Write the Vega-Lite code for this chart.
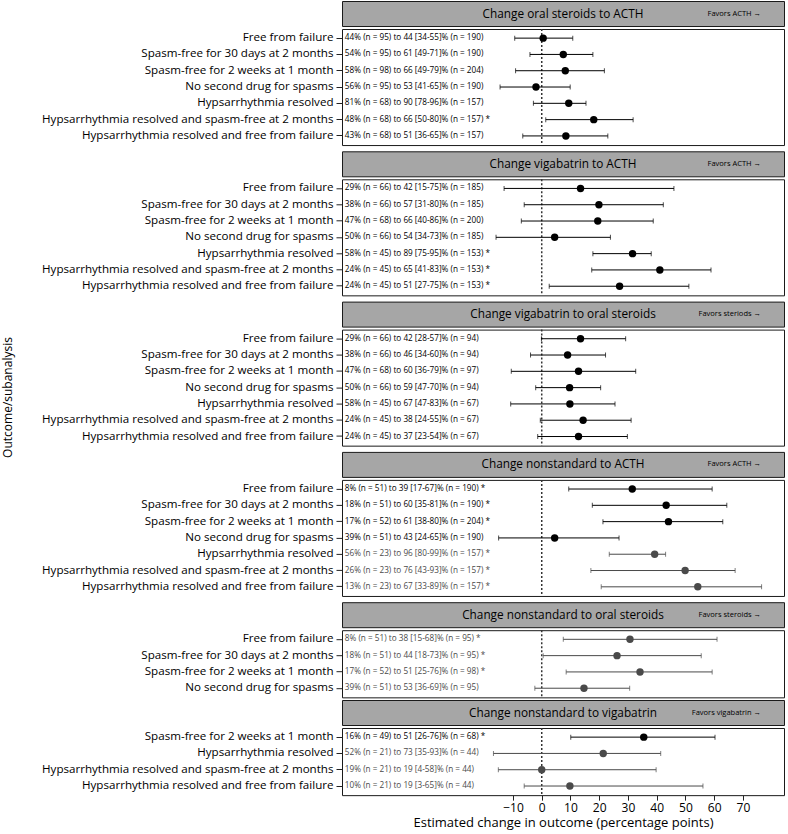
{
  "$schema": "https://vega.github.io/schema/vega-lite/v6.json",
  "padding": {"left": 2, "top": 0, "right": 2, "bottom": 0},
  "config": {
    "font": "Open Sans",
    "view": {"stroke": "#1a1a1a", "strokeWidth": 1},
    "axis": {"labelColor": "#000", "tickColor": "#222", "titleColor": "#000", "domain": false, "grid": false, "titleFontWeight": "normal", "labelLimit": 0}
  },
  "datasets": {
    "panels": [
      {"panel": "Change oral steroids to ACTH", "favors": "Favors ACTH →"},
      {"panel": "Change vigabatrin to ACTH", "favors": "Favors ACTH →"},
      {"panel": "Change vigabatrin to oral steroids", "favors": "Favors steriods →"},
      {"panel": "Change nonstandard to ACTH", "favors": "Favors ACTH →"},
      {"panel": "Change nonstandard to oral steroids", "favors": "Favors steroids →"},
      {"panel": "Change nonstandard to vigabatrin", "favors": "Favors vigabatrin →"}
    ],
    "zero": [{"ref": 0}],
    "rows": [
      {"panel": "Change oral steroids to ACTH", "outcome": "Free from failure", "label": "44% (n = 95) to 44 [34-55]% (n = 190)", "est": 0.5, "lo": -9.4, "hi": 10.8, "tone": "full"},
      {"panel": "Change oral steroids to ACTH", "outcome": "Spasm-free for 30 days at 2 months", "label": "54% (n = 95) to 61 [49-71]% (n = 190)", "est": 7.5, "lo": -4.1, "hi": 17.8, "tone": "full"},
      {"panel": "Change oral steroids to ACTH", "outcome": "Spasm-free for 2 weeks at 1 month", "label": "58% (n = 98) to 66 [49-79]% (n = 204)", "est": 8.2, "lo": -9.1, "hi": 21.8, "tone": "full"},
      {"panel": "Change oral steroids to ACTH", "outcome": "No second drug for spasms", "label": "56% (n = 95) to 53 [41-65]% (n = 190)", "est": -2.0, "lo": -14.5, "hi": 9.9, "tone": "full"},
      {"panel": "Change oral steroids to ACTH", "outcome": "Hypsarrhythmia resolved", "label": "81% (n = 68) to 90 [78-96]% (n = 157)", "est": 9.4, "lo": -2.9, "hi": 15.4, "tone": "full"},
      {"panel": "Change oral steroids to ACTH", "outcome": "Hypsarrhythmia resolved and spasm-free at 2 months", "label": "48% (n = 68) to 66 [50-80]% (n = 157) *", "est": 18.1, "lo": 1.4, "hi": 31.8, "tone": "full"},
      {"panel": "Change oral steroids to ACTH", "outcome": "Hypsarrhythmia resolved and free from failure", "label": "43% (n = 68) to 51 [36-65]% (n = 157)", "est": 8.4, "lo": -6.6, "hi": 23.0, "tone": "full"},

      {"panel": "Change vigabatrin to ACTH", "outcome": "Free from failure", "label": "29% (n = 66) to 42 [15-75]% (n = 185)", "est": 13.5, "lo": -13.1, "hi": 46.0, "tone": "full"},
      {"panel": "Change vigabatrin to ACTH", "outcome": "Spasm-free for 30 days at 2 months", "label": "38% (n = 66) to 57 [31-80]% (n = 185)", "est": 19.9, "lo": -6.1, "hi": 42.3, "tone": "full"},
      {"panel": "Change vigabatrin to ACTH", "outcome": "Spasm-free for 2 weeks at 1 month", "label": "47% (n = 68) to 66 [40-86]% (n = 200)", "est": 19.5, "lo": -7.1, "hi": 38.8, "tone": "full"},
      {"panel": "Change vigabatrin to ACTH", "outcome": "No second drug for spasms", "label": "50% (n = 66) to 54 [34-73]% (n = 185)", "est": 4.5, "lo": -15.9, "hi": 23.9, "tone": "full"},
      {"panel": "Change vigabatrin to ACTH", "outcome": "Hypsarrhythmia resolved", "label": "58% (n = 45) to 89 [75-95]% (n = 153) *", "est": 31.6, "lo": 17.8, "hi": 38.1, "tone": "full"},
      {"panel": "Change vigabatrin to ACTH", "outcome": "Hypsarrhythmia resolved and spasm-free at 2 months", "label": "24% (n = 45) to 65 [41-83]% (n = 153) *", "est": 41.1, "lo": 17.4, "hi": 58.9, "tone": "full"},
      {"panel": "Change vigabatrin to ACTH", "outcome": "Hypsarrhythmia resolved and free from failure", "label": "24% (n = 45) to 51 [27-75]% (n = 153) *", "est": 27.1, "lo": 2.6, "hi": 51.2, "tone": "full"},

      {"panel": "Change vigabatrin to oral steroids", "outcome": "Free from failure", "label": "29% (n = 66) to 42 [28-57]% (n = 94)", "est": 13.5, "lo": -0.1, "hi": 29.2, "tone": "full"},
      {"panel": "Change vigabatrin to oral steroids", "outcome": "Spasm-free for 30 days at 2 months", "label": "38% (n = 66) to 46 [34-60]% (n = 94)", "est": 9.0, "lo": -3.9, "hi": 22.2, "tone": "full"},
      {"panel": "Change vigabatrin to oral steroids", "outcome": "Spasm-free for 2 weeks at 1 month", "label": "47% (n = 68) to 60 [36-79]% (n = 97)", "est": 12.8, "lo": -10.6, "hi": 32.7, "tone": "full"},
      {"panel": "Change vigabatrin to oral steroids", "outcome": "No second drug for spasms", "label": "50% (n = 66) to 59 [47-70]% (n = 94)", "est": 9.7, "lo": -2.1, "hi": 20.5, "tone": "full"},
      {"panel": "Change vigabatrin to oral steroids", "outcome": "Hypsarrhythmia resolved", "label": "58% (n = 45) to 67 [47-83]% (n = 67)", "est": 9.8, "lo": -10.8, "hi": 25.5, "tone": "full"},
      {"panel": "Change vigabatrin to oral steroids", "outcome": "Hypsarrhythmia resolved and spasm-free at 2 months", "label": "24% (n = 45) to 38 [24-55]% (n = 67)", "est": 14.4, "lo": -0.5, "hi": 31.1, "tone": "full"},
      {"panel": "Change vigabatrin to oral steroids", "outcome": "Hypsarrhythmia resolved and free from failure", "label": "24% (n = 45) to 37 [23-54]% (n = 67)", "est": 12.8, "lo": -1.4, "hi": 29.8, "tone": "full"},

      {"panel": "Change nonstandard to ACTH", "outcome": "Free from failure", "label": "8% (n = 51) to 39 [17-67]% (n = 190) *", "est": 31.5, "lo": 9.4, "hi": 59.3, "tone": "full"},
      {"panel": "Change nonstandard to ACTH", "outcome": "Spasm-free for 30 days at 2 months", "label": "18% (n = 51) to 60 [35-81]% (n = 190) *", "est": 43.3, "lo": 17.6, "hi": 64.4, "tone": "full"},
      {"panel": "Change nonstandard to ACTH", "outcome": "Spasm-free for 2 weeks at 1 month", "label": "17% (n = 52) to 61 [38-80]% (n = 204) *", "est": 44.1, "lo": 21.3, "hi": 63.0, "tone": "full"},
      {"panel": "Change nonstandard to ACTH", "outcome": "No second drug for spasms", "label": "39% (n = 51) to 43 [24-65]% (n = 190)", "est": 4.5, "lo": -15.0, "hi": 26.9, "tone": "full"},
      {"panel": "Change nonstandard to ACTH", "outcome": "Hypsarrhythmia resolved", "label": "56% (n = 23) to 96 [80-99]% (n = 157) *", "est": 39.3, "lo": 23.5, "hi": 43.1, "tone": "muted"},
      {"panel": "Change nonstandard to ACTH", "outcome": "Hypsarrhythmia resolved and spasm-free at 2 months", "label": "26% (n = 23) to 76 [43-93]% (n = 157) *", "est": 49.9, "lo": 17.1, "hi": 67.3, "tone": "muted"},
      {"panel": "Change nonstandard to ACTH", "outcome": "Hypsarrhythmia resolved and free from failure", "label": "13% (n = 23) to 67 [33-89]% (n = 157) *", "est": 54.3, "lo": 20.7, "hi": 76.5, "tone": "muted"},

      {"panel": "Change nonstandard to oral steroids", "outcome": "Free from failure", "label": "8% (n = 51) to 38 [15-68]% (n = 95) *", "est": 30.7, "lo": 7.5, "hi": 61.0, "tone": "muted"},
      {"panel": "Change nonstandard to oral steroids", "outcome": "Spasm-free for 30 days at 2 months", "label": "18% (n = 51) to 44 [18-73]% (n = 95) *", "est": 26.2, "lo": 0.5, "hi": 55.5, "tone": "muted"},
      {"panel": "Change nonstandard to oral steroids", "outcome": "Spasm-free for 2 weeks at 1 month", "label": "17% (n = 52) to 51 [25-76]% (n = 98) *", "est": 34.2, "lo": 8.5, "hi": 59.3, "tone": "muted"},
      {"panel": "Change nonstandard to oral steroids", "outcome": "No second drug for spasms", "label": "39% (n = 51) to 53 [36-69]% (n = 95)", "est": 14.7, "lo": -2.4, "hi": 30.6, "tone": "muted"},

      {"panel": "Change nonstandard to vigabatrin", "outcome": "Spasm-free for 2 weeks at 1 month", "label": "16% (n = 49) to 51 [26-76]% (n = 68) *", "est": 35.5, "lo": 10.1, "hi": 60.3, "tone": "full"},
      {"panel": "Change nonstandard to vigabatrin", "outcome": "Hypsarrhythmia resolved", "label": "52% (n = 21) to 73 [35-93]% (n = 44)", "est": 21.4, "lo": -16.8, "hi": 41.4, "tone": "muted"},
      {"panel": "Change nonstandard to vigabatrin", "outcome": "Hypsarrhythmia resolved and spasm-free at 2 months", "label": "19% (n = 21) to 19 [4-58]% (n = 44)", "est": 0.0, "lo": -15.1, "hi": 39.8, "tone": "muted"},
      {"panel": "Change nonstandard to vigabatrin", "outcome": "Hypsarrhythmia resolved and free from failure", "label": "10% (n = 21) to 19 [3-65]% (n = 44)", "est": 9.8, "lo": -6.1, "hi": 56.1, "tone": "muted"}
    ]
  },
  "spacing": 27,
  "hconcat": [
    {"data": {"values": [{"t": "Outcome/subanalysis"}]}, "width": 12, "height": 793, "view": {"stroke": null},
     "mark": {"type": "text", "angle": 270, "fontSize": 12, "color": "#000"}, "encoding": {"text": {"field": "t"}}},
    {"spacing": 0, "vconcat": [
    {"spacing": 3.3, "vconcat": [
    {"spacing": 0, "vconcat": [
      {"data": {"name": "panels"}, "transform": [{"filter": "datum.panel === 'Change oral steroids to ACTH'"}], "width": 442, "height": 25, "view": {"fill": "#a6a6a6", "stroke": "#1a1a1a"},
       "layer": [
         {"mark": {"type": "text", "fontSize": 11.8, "color": "#000"}, "encoding": {"text": {"field": "panel"}}},
         {"mark": {"type": "text", "fontSize": 7.5, "align": "right", "color": "#000"}, "encoding": {"x": {"datum": 76.3, "type": "quantitative", "scale": {"domain": [-69.5, 84.3], "nice": false, "zero": false}, "axis": null}, "text": {"field": "favors"}}}
       ]},
      {"data": {"name": "rows"}, "transform": [{"filter": "datum.panel === 'Change oral steroids to ACTH'"}], "width": 442, "height": {"step": 16.3},
       "layer": [
         {"data": {"name": "zero"}, "mark": {"type": "rule", "strokeDash": [2, 2], "strokeWidth": 1.5, "color": "#333"}, "encoding": {"x": {"field": "ref", "type": "quantitative", "scale": {"domain": [-69.5, 84.3], "nice": false, "zero": false}, "axis": null}}},
         {"mark": {"type": "rule", "strokeWidth": 1}, "encoding": {"x": {"field": "lo", "type": "quantitative", "axis": null}, "x2": {"field": "hi"}, "y": {"field": "outcome", "type": "nominal", "sort": null, "scale": {"type": "band", "paddingInner": 0, "paddingOuter": 0.06}, "axis": {"title": null, "labelFontSize": 11.6, "tickSize": 6, "labelPadding": 3}}, "color": {"field": "tone", "type": "nominal", "scale": {"domain": ["full", "muted"], "range": ["#000000", "#4a4a4a"]}, "legend": null}}},
         {"mark": {"type": "tick", "size": 5, "thickness": 1}, "encoding": {"x": {"field": "lo", "type": "quantitative", "axis": null}, "y": {"field": "outcome", "type": "nominal", "sort": null}, "color": {"field": "tone", "type": "nominal", "legend": null}}},
         {"mark": {"type": "tick", "size": 5, "thickness": 1}, "encoding": {"x": {"field": "hi", "type": "quantitative", "axis": null}, "y": {"field": "outcome", "type": "nominal", "sort": null}, "color": {"field": "tone", "type": "nominal", "legend": null}}},
         {"mark": {"type": "circle", "size": 55, "opacity": 1}, "encoding": {"x": {"field": "est", "type": "quantitative", "axis": null}, "y": {"field": "outcome", "type": "nominal", "sort": null}, "color": {"field": "tone", "type": "nominal", "legend": null}}},
         {"mark": {"type": "text", "align": "left", "fontSize": 8.2}, "encoding": {"x": {"datum": -68.5, "type": "quantitative", "axis": null}, "y": {"field": "outcome", "type": "nominal", "sort": null}, "text": {"field": "label"}, "color": {"field": "tone", "type": "nominal", "legend": null}}}
       ]}
    ]},
    {"spacing": 0, "vconcat": [
      {"data": {"name": "panels"}, "transform": [{"filter": "datum.panel === 'Change vigabatrin to ACTH'"}], "width": 442, "height": 25, "view": {"fill": "#a6a6a6", "stroke": "#1a1a1a"},
       "layer": [
         {"mark": {"type": "text", "fontSize": 11.8, "color": "#000"}, "encoding": {"text": {"field": "panel"}}},
         {"mark": {"type": "text", "fontSize": 7.5, "align": "right", "color": "#000"}, "encoding": {"x": {"datum": 76.3, "type": "quantitative", "scale": {"domain": [-69.5, 84.3], "nice": false, "zero": false}, "axis": null}, "text": {"field": "favors"}}}
       ]},
      {"data": {"name": "rows"}, "transform": [{"filter": "datum.panel === 'Change vigabatrin to ACTH'"}], "width": 442, "height": {"step": 16.3},
       "layer": [
         {"data": {"name": "zero"}, "mark": {"type": "rule", "strokeDash": [2, 2], "strokeWidth": 1.5, "color": "#333"}, "encoding": {"x": {"field": "ref", "type": "quantitative", "scale": {"domain": [-69.5, 84.3], "nice": false, "zero": false}, "axis": null}}},
         {"mark": {"type": "rule", "strokeWidth": 1}, "encoding": {"x": {"field": "lo", "type": "quantitative", "axis": null}, "x2": {"field": "hi"}, "y": {"field": "outcome", "type": "nominal", "sort": null, "scale": {"type": "band", "paddingInner": 0, "paddingOuter": 0.06}, "axis": {"title": null, "labelFontSize": 11.6, "tickSize": 6, "labelPadding": 3}}, "color": {"field": "tone", "type": "nominal", "scale": {"domain": ["full", "muted"], "range": ["#000000", "#4a4a4a"]}, "legend": null}}},
         {"mark": {"type": "tick", "size": 5, "thickness": 1}, "encoding": {"x": {"field": "lo", "type": "quantitative", "axis": null}, "y": {"field": "outcome", "type": "nominal", "sort": null}, "color": {"field": "tone", "type": "nominal", "legend": null}}},
         {"mark": {"type": "tick", "size": 5, "thickness": 1}, "encoding": {"x": {"field": "hi", "type": "quantitative", "axis": null}, "y": {"field": "outcome", "type": "nominal", "sort": null}, "color": {"field": "tone", "type": "nominal", "legend": null}}},
         {"mark": {"type": "circle", "size": 55, "opacity": 1}, "encoding": {"x": {"field": "est", "type": "quantitative", "axis": null}, "y": {"field": "outcome", "type": "nominal", "sort": null}, "color": {"field": "tone", "type": "nominal", "legend": null}}},
         {"mark": {"type": "text", "align": "left", "fontSize": 8.2}, "encoding": {"x": {"datum": -68.5, "type": "quantitative", "axis": null}, "y": {"field": "outcome", "type": "nominal", "sort": null}, "text": {"field": "label"}, "color": {"field": "tone", "type": "nominal", "legend": null}}}
       ]}
    ]},
    {"spacing": 0, "vconcat": [
      {"data": {"name": "panels"}, "transform": [{"filter": "datum.panel === 'Change vigabatrin to oral steroids'"}], "width": 442, "height": 25, "view": {"fill": "#a6a6a6", "stroke": "#1a1a1a"},
       "layer": [
         {"mark": {"type": "text", "fontSize": 11.8, "color": "#000"}, "encoding": {"text": {"field": "panel"}}},
         {"mark": {"type": "text", "fontSize": 7.5, "align": "right", "color": "#000"}, "encoding": {"x": {"datum": 76.3, "type": "quantitative", "scale": {"domain": [-69.5, 84.3], "nice": false, "zero": false}, "axis": null}, "text": {"field": "favors"}}}
       ]},
      {"data": {"name": "rows"}, "transform": [{"filter": "datum.panel === 'Change vigabatrin to oral steroids'"}], "width": 442, "height": {"step": 16.3},
       "layer": [
         {"data": {"name": "zero"}, "mark": {"type": "rule", "strokeDash": [2, 2], "strokeWidth": 1.5, "color": "#333"}, "encoding": {"x": {"field": "ref", "type": "quantitative", "scale": {"domain": [-69.5, 84.3], "nice": false, "zero": false}, "axis": null}}},
         {"mark": {"type": "rule", "strokeWidth": 1}, "encoding": {"x": {"field": "lo", "type": "quantitative", "axis": null}, "x2": {"field": "hi"}, "y": {"field": "outcome", "type": "nominal", "sort": null, "scale": {"type": "band", "paddingInner": 0, "paddingOuter": 0.06}, "axis": {"title": null, "labelFontSize": 11.6, "tickSize": 6, "labelPadding": 3}}, "color": {"field": "tone", "type": "nominal", "scale": {"domain": ["full", "muted"], "range": ["#000000", "#4a4a4a"]}, "legend": null}}},
         {"mark": {"type": "tick", "size": 5, "thickness": 1}, "encoding": {"x": {"field": "lo", "type": "quantitative", "axis": null}, "y": {"field": "outcome", "type": "nominal", "sort": null}, "color": {"field": "tone", "type": "nominal", "legend": null}}},
         {"mark": {"type": "tick", "size": 5, "thickness": 1}, "encoding": {"x": {"field": "hi", "type": "quantitative", "axis": null}, "y": {"field": "outcome", "type": "nominal", "sort": null}, "color": {"field": "tone", "type": "nominal", "legend": null}}},
         {"mark": {"type": "circle", "size": 55, "opacity": 1}, "encoding": {"x": {"field": "est", "type": "quantitative", "axis": null}, "y": {"field": "outcome", "type": "nominal", "sort": null}, "color": {"field": "tone", "type": "nominal", "legend": null}}},
         {"mark": {"type": "text", "align": "left", "fontSize": 8.2}, "encoding": {"x": {"datum": -68.5, "type": "quantitative", "axis": null}, "y": {"field": "outcome", "type": "nominal", "sort": null}, "text": {"field": "label"}, "color": {"field": "tone", "type": "nominal", "legend": null}}}
       ]}
    ]},
    {"spacing": 0, "vconcat": [
      {"data": {"name": "panels"}, "transform": [{"filter": "datum.panel === 'Change nonstandard to ACTH'"}], "width": 442, "height": 25, "view": {"fill": "#a6a6a6", "stroke": "#1a1a1a"},
       "layer": [
         {"mark": {"type": "text", "fontSize": 11.8, "color": "#000"}, "encoding": {"text": {"field": "panel"}}},
         {"mark": {"type": "text", "fontSize": 7.5, "align": "right", "color": "#000"}, "encoding": {"x": {"datum": 76.3, "type": "quantitative", "scale": {"domain": [-69.5, 84.3], "nice": false, "zero": false}, "axis": null}, "text": {"field": "favors"}}}
       ]},
      {"data": {"name": "rows"}, "transform": [{"filter": "datum.panel === 'Change nonstandard to ACTH'"}], "width": 442, "height": {"step": 16.3},
       "layer": [
         {"data": {"name": "zero"}, "mark": {"type": "rule", "strokeDash": [2, 2], "strokeWidth": 1.5, "color": "#333"}, "encoding": {"x": {"field": "ref", "type": "quantitative", "scale": {"domain": [-69.5, 84.3], "nice": false, "zero": false}, "axis": null}}},
         {"mark": {"type": "rule", "strokeWidth": 1}, "encoding": {"x": {"field": "lo", "type": "quantitative", "axis": null}, "x2": {"field": "hi"}, "y": {"field": "outcome", "type": "nominal", "sort": null, "scale": {"type": "band", "paddingInner": 0, "paddingOuter": 0.06}, "axis": {"title": null, "labelFontSize": 11.6, "tickSize": 6, "labelPadding": 3}}, "color": {"field": "tone", "type": "nominal", "scale": {"domain": ["full", "muted"], "range": ["#000000", "#4a4a4a"]}, "legend": null}}},
         {"mark": {"type": "tick", "size": 5, "thickness": 1}, "encoding": {"x": {"field": "lo", "type": "quantitative", "axis": null}, "y": {"field": "outcome", "type": "nominal", "sort": null}, "color": {"field": "tone", "type": "nominal", "legend": null}}},
         {"mark": {"type": "tick", "size": 5, "thickness": 1}, "encoding": {"x": {"field": "hi", "type": "quantitative", "axis": null}, "y": {"field": "outcome", "type": "nominal", "sort": null}, "color": {"field": "tone", "type": "nominal", "legend": null}}},
         {"mark": {"type": "circle", "size": 55, "opacity": 1}, "encoding": {"x": {"field": "est", "type": "quantitative", "axis": null}, "y": {"field": "outcome", "type": "nominal", "sort": null}, "color": {"field": "tone", "type": "nominal", "legend": null}}},
         {"mark": {"type": "text", "align": "left", "fontSize": 8.2}, "encoding": {"x": {"datum": -68.5, "type": "quantitative", "axis": null}, "y": {"field": "outcome", "type": "nominal", "sort": null}, "text": {"field": "label"}, "color": {"field": "tone", "type": "nominal", "legend": null}}}
       ]}
    ]},
    {"spacing": 0, "vconcat": [
      {"data": {"name": "panels"}, "transform": [{"filter": "datum.panel === 'Change nonstandard to oral steroids'"}], "width": 442, "height": 25, "view": {"fill": "#a6a6a6", "stroke": "#1a1a1a"},
       "layer": [
         {"mark": {"type": "text", "fontSize": 11.8, "color": "#000"}, "encoding": {"text": {"field": "panel"}}},
         {"mark": {"type": "text", "fontSize": 7.5, "align": "right", "color": "#000"}, "encoding": {"x": {"datum": 76.3, "type": "quantitative", "scale": {"domain": [-69.5, 84.3], "nice": false, "zero": false}, "axis": null}, "text": {"field": "favors"}}}
       ]},
      {"data": {"name": "rows"}, "transform": [{"filter": "datum.panel === 'Change nonstandard to oral steroids'"}], "width": 442, "height": {"step": 16.3},
       "layer": [
         {"data": {"name": "zero"}, "mark": {"type": "rule", "strokeDash": [2, 2], "strokeWidth": 1.5, "color": "#333"}, "encoding": {"x": {"field": "ref", "type": "quantitative", "scale": {"domain": [-69.5, 84.3], "nice": false, "zero": false}, "axis": null}}},
         {"mark": {"type": "rule", "strokeWidth": 1}, "encoding": {"x": {"field": "lo", "type": "quantitative", "axis": null}, "x2": {"field": "hi"}, "y": {"field": "outcome", "type": "nominal", "sort": null, "scale": {"type": "band", "paddingInner": 0, "paddingOuter": 0.06}, "axis": {"title": null, "labelFontSize": 11.6, "tickSize": 6, "labelPadding": 3}}, "color": {"field": "tone", "type": "nominal", "scale": {"domain": ["full", "muted"], "range": ["#000000", "#4a4a4a"]}, "legend": null}}},
         {"mark": {"type": "tick", "size": 5, "thickness": 1}, "encoding": {"x": {"field": "lo", "type": "quantitative", "axis": null}, "y": {"field": "outcome", "type": "nominal", "sort": null}, "color": {"field": "tone", "type": "nominal", "legend": null}}},
         {"mark": {"type": "tick", "size": 5, "thickness": 1}, "encoding": {"x": {"field": "hi", "type": "quantitative", "axis": null}, "y": {"field": "outcome", "type": "nominal", "sort": null}, "color": {"field": "tone", "type": "nominal", "legend": null}}},
         {"mark": {"type": "circle", "size": 55, "opacity": 1}, "encoding": {"x": {"field": "est", "type": "quantitative", "axis": null}, "y": {"field": "outcome", "type": "nominal", "sort": null}, "color": {"field": "tone", "type": "nominal", "legend": null}}},
         {"mark": {"type": "text", "align": "left", "fontSize": 8.2}, "encoding": {"x": {"datum": -68.5, "type": "quantitative", "axis": null}, "y": {"field": "outcome", "type": "nominal", "sort": null}, "text": {"field": "label"}, "color": {"field": "tone", "type": "nominal", "legend": null}}}
       ]}
    ]}
    ]},
    {"spacing": 0, "vconcat": [
      {"data": {"name": "panels"}, "transform": [{"filter": "datum.panel === 'Change nonstandard to vigabatrin'"}], "width": 442, "height": 25, "view": {"fill": "#a6a6a6", "stroke": "#1a1a1a"},
       "layer": [
         {"mark": {"type": "text", "fontSize": 11.8, "color": "#000"}, "encoding": {"text": {"field": "panel"}}},
         {"mark": {"type": "text", "fontSize": 7.5, "align": "right", "color": "#000"}, "encoding": {"x": {"datum": 76.3, "type": "quantitative", "scale": {"domain": [-69.5, 84.3], "nice": false, "zero": false}, "axis": null}, "text": {"field": "favors"}}}
       ]},
      {"data": {"name": "rows"}, "transform": [{"filter": "datum.panel === 'Change nonstandard to vigabatrin'"}], "width": 442, "height": {"step": 16.3},
       "layer": [
         {"data": {"name": "zero"}, "mark": {"type": "rule", "strokeDash": [2, 2], "strokeWidth": 1.5, "color": "#333"}, "encoding": {"x": {"field": "ref", "type": "quantitative", "scale": {"domain": [-69.5, 84.3], "nice": false, "zero": false}, "axis": {"values": [-10, 0, 10, 20, 30, 40, 50, 60, 70], "title": "Estimated change in outcome (percentage points)", "labelFontSize": 12, "titleFontSize": 13, "tickSize": 5, "labelPadding": 2, "titlePadding": 3.5}}}},
         {"mark": {"type": "rule", "strokeWidth": 1}, "encoding": {"x": {"field": "lo", "type": "quantitative"}, "x2": {"field": "hi"}, "y": {"field": "outcome", "type": "nominal", "sort": null, "scale": {"type": "band", "paddingInner": 0, "paddingOuter": 0.06}, "axis": {"title": null, "labelFontSize": 11.6, "tickSize": 6, "labelPadding": 3}}, "color": {"field": "tone", "type": "nominal", "scale": {"domain": ["full", "muted"], "range": ["#000000", "#4a4a4a"]}, "legend": null}}},
         {"mark": {"type": "tick", "size": 5, "thickness": 1}, "encoding": {"x": {"field": "lo", "type": "quantitative"}, "y": {"field": "outcome", "type": "nominal", "sort": null}, "color": {"field": "tone", "type": "nominal", "legend": null}}},
         {"mark": {"type": "tick", "size": 5, "thickness": 1}, "encoding": {"x": {"field": "hi", "type": "quantitative"}, "y": {"field": "outcome", "type": "nominal", "sort": null}, "color": {"field": "tone", "type": "nominal", "legend": null}}},
         {"mark": {"type": "circle", "size": 55, "opacity": 1}, "encoding": {"x": {"field": "est", "type": "quantitative"}, "y": {"field": "outcome", "type": "nominal", "sort": null}, "color": {"field": "tone", "type": "nominal", "legend": null}}},
         {"mark": {"type": "text", "align": "left", "fontSize": 8.2}, "encoding": {"x": {"datum": -68.5, "type": "quantitative"}, "y": {"field": "outcome", "type": "nominal", "sort": null}, "text": {"field": "label"}, "color": {"field": "tone", "type": "nominal", "legend": null}}}
       ]}
    ]}
    ]}
  ]
}
